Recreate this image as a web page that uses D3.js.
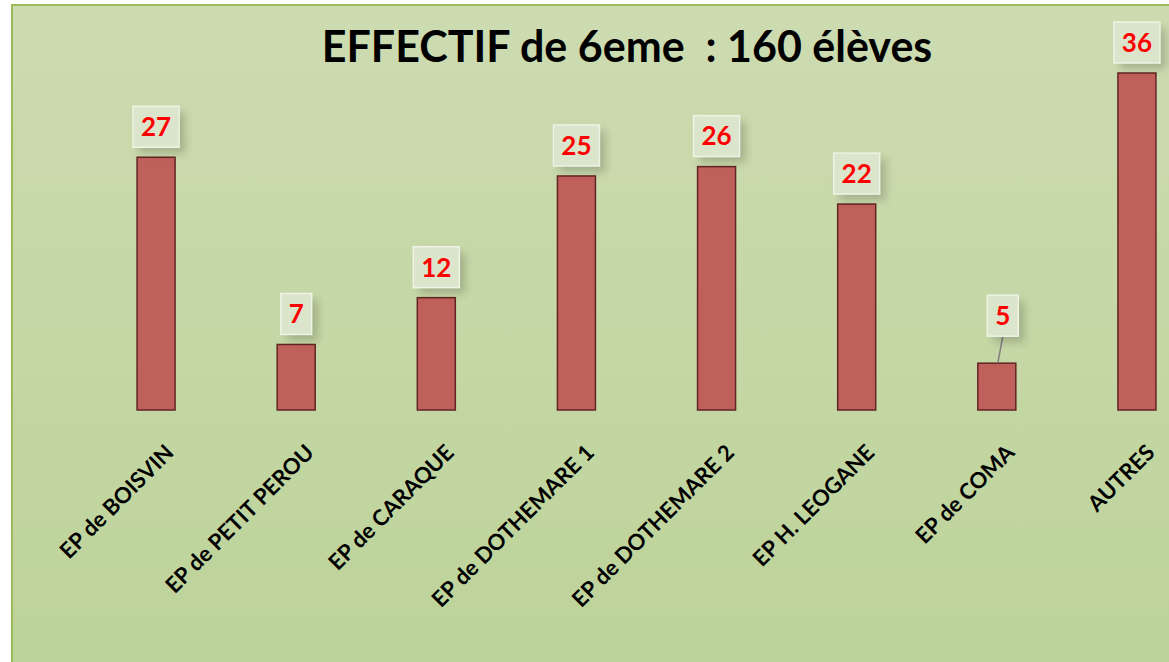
<!DOCTYPE html>
<html>
<head>
<meta charset="utf-8">
<script src="https://cdn.jsdelivr.net/npm/d3@7"></script>
<style>
  body { margin: 0; background: #fff; }
  svg { display: block; font-family: Lato, "Noto Sans", sans-serif; }
</style>
</head>
<body>
<svg id="chart"></svg>
<script>
var categories = ["EP de BOISVIN", "EP de PETIT PEROU", "EP de CARAQUE", "EP de DOTHEMARE 1",
                  "EP de DOTHEMARE 2", "EP H. LEOGANE", "EP de COMA", "AUTRES"];
var values = [27, 7, 12, 25, 26, 22, 5, 36];
var title = "EFFECTIF de 6eme  : 160 élèves";

var width = 1169, height = 662;
var frame = { left: 12, top: 5 };
var plot = { left: 86, right: 1207, top: 73, bottom: 410 };

var svg = d3.select("#chart")
  .attr("width", width)
  .attr("height", height);

var defs = svg.append("defs");
var grad = defs.append("linearGradient")
  .attr("id", "bg").attr("x1", 0).attr("y1", 0).attr("x2", 0).attr("y2", 1);
grad.append("stop").attr("offset", "0%").attr("stop-color", "#cddbb1");
grad.append("stop").attr("offset", "100%").attr("stop-color", "#bcd399");

defs.append("filter").attr("id", "blur")
  .attr("x", "-50%").attr("y", "-50%").attr("width", "200%").attr("height", "200%")
  .append("feGaussianBlur").attr("stdDeviation", 4);

// chart area with green frame
svg.append("rect")
  .attr("x", frame.left).attr("y", frame.top)
  .attr("width", width - frame.left + 10).attr("height", height - frame.top + 10)
  .attr("fill", "url(#bg)")
  .attr("stroke", "#9bbb59").attr("stroke-width", 2);

var x = d3.scalePoint()
  .domain(categories)
  .range([plot.left, plot.right])
  .padding(0.5);

var y = d3.scaleLinear()
  .domain([0, d3.max(values)])
  .range([plot.bottom, plot.top]);

var barW = 38;
var data = categories.map(function (c, i) { return { cat: c, val: values[i] }; });

// title
svg.append("text")
  .attr("x", 627).attr("y", 62)
  .attr("text-anchor", "middle")
  .style("font-size", "43px").style("font-weight", "bold")
  .style("white-space", "pre")
  .attr("fill", "#000")
  .text(title);

// bars
svg.append("g").selectAll("rect")
  .data(data).enter().append("rect")
  .attr("x", function (d) { return x(d.cat) - barW / 2; })
  .attr("y", function (d) { return y(d.val); })
  .attr("width", barW)
  .attr("height", function (d) { return y(0) - y(d.val); })
  .attr("fill", "#c0605a")
  .attr("stroke", "#632523").attr("stroke-width", 1.5);

// category labels, rotated
svg.append("g").selectAll("text")
  .data(categories).enter().append("text")
  .attr("transform", function (d) { return "translate(" + (x(d) + 19) + ",454) rotate(-45)"; })
  .attr("text-anchor", "end")
  .style("font-size", "22px").style("font-weight", "bold")
  .attr("fill", "#000")
  .text(function (d) { return d; });

// data labels (the COMA one was dragged up in the original, with a leader line)
var moved = { "EP de COMA": [6, -17] };
var boxH = 41, gap = 10;

data.forEach(function (d) {
  var off = moved[d.cat];
  if (!off) return;
  svg.append("line")
    .attr("x1", x(d.cat) + off[0]).attr("y1", y(d.val) - gap + off[1])
    .attr("x2", x(d.cat) + 1).attr("y2", y(d.val))
    .attr("stroke", "#7f7f7f").attr("stroke-width", 1.5);
});

var lab = svg.append("g").selectAll("g")
  .data(data).enter().append("g")
  .attr("transform", function (d) {
    var off = moved[d.cat] || [0, 0];
    return "translate(" + (x(d.cat) + off[0]) + "," + (y(d.val) - gap - boxH / 2 + off[1]) + ")";
  });

function boxW(d) { return String(d.val).length > 1 ? 46 : 31; }

lab.append("rect")
  .attr("x", function (d) { return -boxW(d) / 2 + 6; })
  .attr("y", -boxH / 2 + 6)
  .attr("width", boxW).attr("height", boxH)
  .attr("fill", "#000").attr("opacity", 0.18)
  .attr("filter", "url(#blur)");

lab.append("rect")
  .attr("x", function (d) { return -boxW(d) / 2; })
  .attr("y", -boxH / 2)
  .attr("width", boxW).attr("height", boxH)
  .attr("fill", "#dbe5cc")
  .attr("stroke", "#eef3e6").attr("stroke-width", 1.5);

lab.append("text")
  .attr("text-anchor", "middle")
  .attr("dy", "0.36em")
  .style("font-size", "26px").style("font-weight", "bold")
  .attr("fill", "#ff0000")
  .text(function (d) { return d.val; });
</script>
</body>
</html>
